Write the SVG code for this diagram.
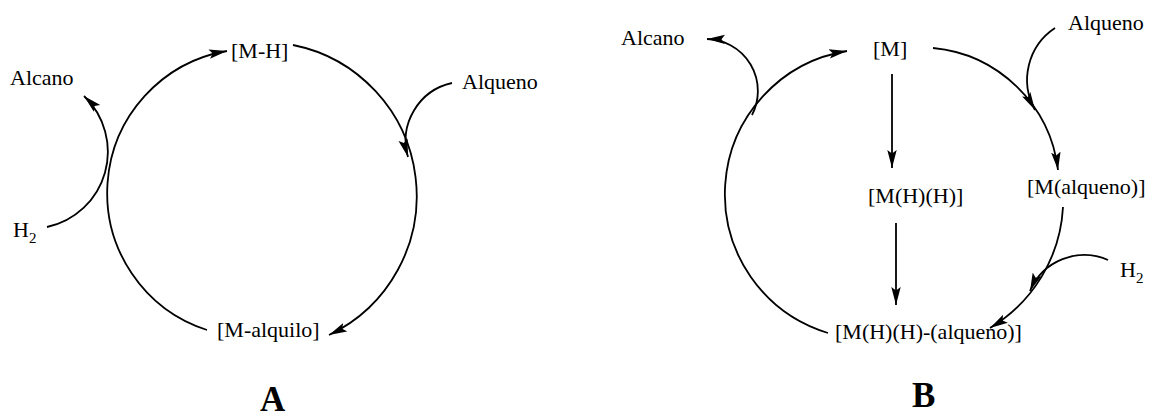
<svg xmlns="http://www.w3.org/2000/svg" width="1151" height="418" viewBox="0 0 1151 418">
<style>
text{font-family:"Liberation Serif","Times New Roman",serif;font-size:22px;fill:#000}
.sub{font-size:15px}
.lbl{font-size:35px;font-weight:bold}
.c{fill:none;stroke:#000;stroke-width:1.8}
</style>
<defs>
<marker id="ah" markerUnits="userSpaceOnUse" markerWidth="19" markerHeight="11" refX="18" refY="5.5" orient="auto">
<path d="M0,0.8 L18,5.5 L0,10.2 L3.5,5.5 z" fill="#000"/>
</marker>
</defs>
<rect width="1151" height="418" fill="#fff"/>
<g id="connectors">
<path class="c" d="M207,330 A144,144 0 0 1 227,51" marker-end="url(#ah)"/>
<path class="c" d="M293,45 A154,154 0 0 1 329,335" marker-end="url(#ah)"/>
<path class="c" d="M47,227 A77,77 0 0 0 84,96" marker-end="url(#ah)"/>
<path class="c" d="M452,83 A59,59 0 0 0 408,157" marker-end="url(#ah)"/>
<path class="c" d="M828,333 A145,145 0 0 1 847,51" marker-end="url(#ah)"/>
<path class="c" d="M933,48 A139,139 0 0 1 1058,170" marker-end="url(#ah)"/>
<path class="c" d="M1063,207 A150,150 0 0 1 990,328" marker-end="url(#ah)"/>
<path class="c" d="M752,115 A52,52 0 0 0 707,39" marker-end="url(#ah)"/>
<path class="c" d="M1055,28 A62,62 0 0 0 1035,110" marker-end="url(#ah)"/>
<path class="c" d="M1108,260 A59,59 0 0 0 1030,291" marker-end="url(#ah)"/>
<path class="c" d="M892,74 L892,168" marker-end="url(#ah)"/>
<path class="c" d="M896,223 L896,305" marker-end="url(#ah)"/>
</g>
<g id="A-MH"><text x="231" y="58">[M-H]</text></g>
<g id="A-alcano"><text x="10" y="85">Alcano</text></g>
<g id="A-alqueno"><text x="462" y="89">Alqueno</text></g>
<g id="A-H2"><text x="13" y="237">H</text><text class="sub" x="29" y="243">2</text></g>
<g id="A-Malquilo"><text x="217" y="337">[M-alquilo]</text></g>
<g id="A-label"><text class="lbl" x="260" y="411">A</text></g>
<g id="B-alcano"><text x="621" y="45">Alcano</text></g>
<g id="B-M"><text x="873" y="56">[M]</text></g>
<g id="B-alqueno"><text x="1068" y="30">Alqueno</text></g>
<g id="B-MHH"><text x="868" y="203">[M(H)(H)]</text></g>
<g id="B-Malqueno"><text x="1027" y="194">[M(alqueno)]</text></g>
<g id="B-H2"><text x="1120" y="277">H</text><text class="sub" x="1136" y="283">2</text></g>
<g id="B-MHHalqueno"><text x="835" y="339">[M(H)(H)-(alqueno)]</text></g>
<g id="B-label"><text class="lbl" x="912" y="407">B</text></g>
</svg>
